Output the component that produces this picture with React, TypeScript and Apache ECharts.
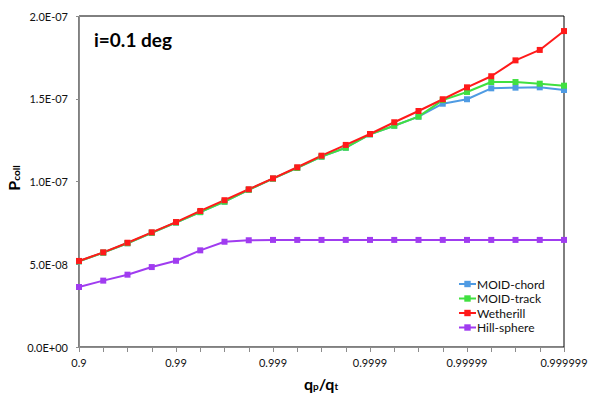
import React, { useEffect, useRef } from "react";
import * as echarts from "echarts";

const categories = [
  "0.9", "0.9438", "0.9684", "0.9822", "0.99", "0.9944", "0.9968", "0.9982",
  "0.999", "0.99944", "0.99968", "0.99982", "0.9999", "0.999944", "0.999968",
  "0.999982", "0.99999", "0.9999944", "0.9999968", "0.9999982", "0.999999",
];

const moidChord = [
  0.518e-7, 0.570e-7, 0.627e-7, 0.690e-7, 0.752e-7, 0.815e-7, 0.878e-7, 0.950e-7,
  1.017e-7, 1.082e-7, 1.150e-7, 1.204e-7, 1.285e-7, 1.337e-7, 1.392e-7, 1.470e-7,
  1.497e-7, 1.563e-7, 1.567e-7, 1.569e-7, 1.553e-7,
];
const moidTrack = [
  0.518e-7, 0.570e-7, 0.627e-7, 0.690e-7, 0.752e-7, 0.815e-7, 0.878e-7, 0.950e-7,
  1.017e-7, 1.082e-7, 1.150e-7, 1.204e-7, 1.285e-7, 1.337e-7, 1.392e-7, 1.492e-7,
  1.541e-7, 1.601e-7, 1.601e-7, 1.591e-7, 1.579e-7,
];
const wetherill = [
  0.520e-7, 0.572e-7, 0.630e-7, 0.693e-7, 0.755e-7, 0.822e-7, 0.887e-7, 0.953e-7,
  1.019e-7, 1.086e-7, 1.156e-7, 1.221e-7, 1.287e-7, 1.358e-7, 1.426e-7, 1.497e-7,
  1.569e-7, 1.636e-7, 1.732e-7, 1.795e-7, 1.909e-7,
];
const hillSphere = [
  0.3625e-7, 0.401e-7, 0.437e-7, 0.483e-7, 0.521e-7, 0.584e-7, 0.636e-7, 0.645e-7,
  0.647e-7, 0.647e-7, 0.647e-7, 0.647e-7, 0.647e-7, 0.647e-7, 0.647e-7, 0.647e-7,
  0.647e-7, 0.647e-7, 0.647e-7, 0.647e-7, 0.647e-7,
];

const FONT = "Lato, 'Open Sans', sans-serif";

function fmtExp(v: number): string {
  if (v === 0) return "0.0E+00";
  const e = Math.floor(Math.log10(Math.abs(v)) + 1e-9);
  const m = v / Math.pow(10, e);
  const sign = e < 0 ? "-" : "+";
  const ae = Math.abs(e);
  return m.toFixed(1) + "E" + sign + (ae < 10 ? "0" + ae : String(ae));
}

export default function App() {
  const ref = useRef<HTMLDivElement>(null);
  useEffect(() => {
    if (!ref.current) return;
    const chart = echarts.init(ref.current, null, { renderer: "svg" });
    const mk = (name: string, data: number[], color: string) => ({
      name,
      type: "line",
      data,
      symbol: "rect",
      symbolSize: 6,
      lineStyle: { width: 2, color },
      itemStyle: { color },
      emphasis: { disabled: true },
    });
    chart.setOption({
      animation: false,
      backgroundColor: "#ffffff",
      textStyle: { fontFamily: FONT },
      grid: {
        left: 79,
        right: 36,
        top: 16,
        bottom: 51,
        containLabel: false,
        show: true,
        borderColor: "#000",
        borderWidth: 1,
        backgroundColor: "transparent",
      },
      xAxis: {
        type: "category",
        data: categories,
        boundaryGap: false,
        axisLine: { show: true, lineStyle: { color: "#8c8c8c", width: 1 } },
        axisTick: { show: true, interval: 0, length: 5, lineStyle: { color: "#8c8c8c" } },
        axisLabel: {
          interval: 3,
          margin: 10,
          fontSize: 11,
          color: "#111",
          fontFamily: FONT,
        },
        splitLine: { show: false },
      },
      yAxis: {
        type: "value",
        min: 0,
        max: 2e-7,
        interval: 5e-8,
        axisLine: { show: true, lineStyle: { color: "#8c8c8c", width: 1 } },
        axisTick: { show: true, length: 3, lineStyle: { color: "#8c8c8c" } },
        axisLabel: {
          formatter: (v: number) => fmtExp(v),
          margin: 11,
          fontSize: 11,
          color: "#111",
          fontFamily: FONT,
        },
        splitLine: { show: false },
      },
      legend: {
        orient: "vertical",
        left: 453,
        top: 272,
        padding: 5,
        itemGap: 0.5,
        itemWidth: 17,
        itemHeight: 8,
        textStyle: {
          fontSize: 12,
          lineHeight: 14,
          color: "#111",
          fontFamily: FONT,
          padding: [0, 0, 0, -4],
        },
        data: ["MOID-chord", "MOID-track", "Wetherill", "Hill-sphere"],
      },
      graphic: [
        {
          type: "text",
          left: 94,
          top: 30,
          style: { text: "i=0.1 deg", font: "bold 19px " + FONT, fill: "#000" },
        },
        {
          type: "text",
          x: 12,
          y: 178,
          rotation: Math.PI / 2,
          style: {
            text: "{p|P}{s|coll}",
            align: "center",
            verticalAlign: "middle",
            rich: {
              p: { font: "bold 16px " + FONT, fill: "#000", verticalAlign: "bottom", lineHeight: 18 },
              s: { font: "bold 10px " + FONT, fill: "#000", verticalAlign: "bottom", lineHeight: 14 },
            },
          },
        },
        {
          type: "text",
          x: 321,
          y: 382,
          style: {
            text: "{p|q}{s|p}{p|/q}{s|t}",
            align: "center",
            verticalAlign: "middle",
            rich: {
              p: { font: "bold 16px " + FONT, fill: "#000", verticalAlign: "bottom", lineHeight: 18 },
              s: { font: "bold 10px " + FONT, fill: "#000", verticalAlign: "bottom", lineHeight: 14 },
            },
          },
        },
      ],
      series: [
        mk("MOID-chord", moidChord, "#4f9be3"),
        mk("MOID-track", moidTrack, "#40e040"),
        mk("Wetherill", wetherill, "#ff1a1a"),
        mk("Hill-sphere", hillSphere, "#a03cf0"),
      ],
    });
    return () => chart.dispose();
  }, []);
  return <div ref={ref} style={{ width: 600, height: 398, position: "absolute", left: 0, top: 0 }} />;
}
